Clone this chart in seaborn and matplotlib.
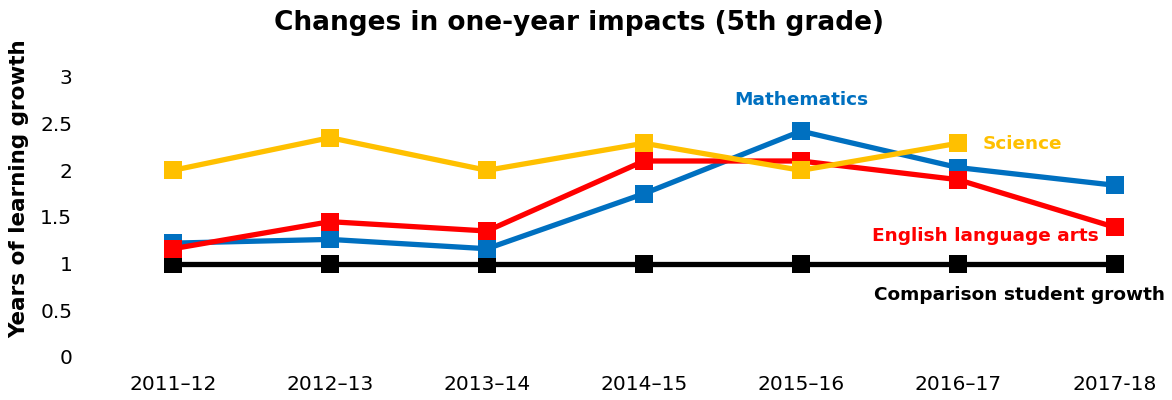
import matplotlib
matplotlib.use("Agg")
import matplotlib.pyplot as plt
import numpy as np
import pandas as pd
import seaborn as sns

years = ["2011\u201312", "2012\u201313", "2013\u201314", "2014\u201315",
         "2015\u201316", "2016\u201317", "2017-18"]
comparison = [1.0, 1.0, 1.0, 1.0, 1.0, 1.0, 1.0]
mathematics = [1.22, 1.26, 1.16, 1.75, 2.42, 2.03, 1.84]
ela = [1.16, 1.45, 1.35, 2.10, 2.10, 1.90, 1.39]
science = [2.0, 2.35, 2.0, 2.29, 2.0, 2.29, np.nan]

names = ["Comparison student growth", "Mathematics",
         "English language arts", "Science"]
colors = {"Comparison student growth": "#000000", "Mathematics": "#0070C0",
          "English language arts": "#FF0000", "Science": "#FFC000"}

frames = []
for name, vals in zip(names, [comparison, mathematics, ela, science]):
    frames.append(pd.DataFrame({"year": np.arange(len(years)), "value": vals,
                                "subject": name}))
data = pd.concat(frames).dropna()

sns.set_style("white")
plt.rcParams["font.family"] = ["DejaVu Sans"]
plt.rcParams["text.color"] = "black"
plt.rcParams["xtick.color"] = "black"
plt.rcParams["ytick.color"] = "black"
plt.rcParams["axes.labelcolor"] = "black"

fig = plt.figure(figsize=(11.72, 4), dpi=100)
ax = fig.add_axes([0.0806, 0.1075, 0.9109, 0.77])

sns.lineplot(
    data=data,
    x="year",
    y="value",
    hue="subject",
    hue_order=names,
    palette=colors,
    marker="s",
    markersize=12.5,
    markeredgewidth=0,
    linewidth=3.8,
    legend=False,
    errorbar=None,
    ax=ax,
)

ax.set_xlim(-0.5, 6.3)
ax.set_ylim(0, 3.3)
ax.set_xticks(range(len(years)))
ax.set_xticklabels(years)
ax.set_yticks([0, 0.5, 1, 1.5, 2, 2.5, 3])
ax.set_yticklabels(["0", "0.5", "1", "1.5", "2", "2.5", "3"])
ax.tick_params(axis="x", length=0, pad=13, labelsize=14.5)
ax.tick_params(axis="y", length=0, pad=16, labelsize=14.5)
for s in ax.spines.values():
    s.set_visible(False)
ax.set_xlabel("")
ax.set_ylabel("Years of learning growth", fontsize=15.5, fontweight="bold")
ax.yaxis.set_label_coords(-0.061, 0.545)

ax.text(4.0, 2.75, "Mathematics", color=colors["Mathematics"],
        fontsize=13.3, fontweight="bold", ha="center", va="center")
ax.text(5.16, 2.28, "Science", color=colors["Science"],
        fontsize=13.3, fontweight="bold", ha="left", va="center")
ax.text(5.9, 1.30, "English language arts", color=colors["English language arts"],
        fontsize=13.3, fontweight="bold", ha="right", va="center")
ax.text(6.32, 0.66, "Comparison student growth", color="black",
        fontsize=13.3, fontweight="bold", ha="right", va="center", clip_on=False)

fig.suptitle("Changes in one-year impacts (5th grade)", fontsize=19,
             fontweight="bold", x=0.494, y=0.975, color="black")

fig.savefig("out.png", dpi=100)
